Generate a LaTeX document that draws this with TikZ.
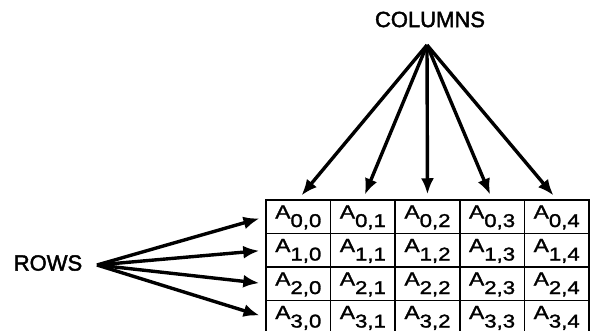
\documentclass[tikz,border=0pt]{standalone}
\usepackage{fontspec}
\setmainfont{Liberation Sans}
\newfontfamily\headfont[FakeBold=2]{Liberation Sans}
\newfontfamily\cellfont[FakeStretch=1.2, FakeBold=1.5]{Liberation Sans}
\usetikzlibrary{arrows.meta, positioning}
\newcommand{\arrent}[2]{{\fontsize{19}{19}\selectfont A}\raisebox{-8.5pt}{\fontsize{18.5}{18.5}\selectfont #1,#2}}

\begin{document}
\begin{tikzpicture}[
    x=1pt, y=-1pt,
    headtext/.style={font=\headfont\fontsize{22}{22}\selectfont},
    cell/.style={draw, line width=1.5pt, minimum width=64.6pt, minimum height=33.5pt, inner sep=0pt, text height=18.5pt, text depth=15pt, font=\cellfont},
    arrow/.style={-{Latex[length=16pt,width=13pt]}, line width=3.4pt}
]
    \useasboundingbox (0,0) rectangle (591,330);
    \node[headtext] (cols) at (430,19.5) {COLUMNS};
    \node[headtext] (rows) at (48,263) {ROWS};
    \coordinate (colfan) at (427,45);
    \coordinate (rowfan) at (97,265);

    \foreach \r in {0,...,3}
        \foreach \c in {0,...,4}
            \node[cell] (a\r\c) at ({298.3+64.6*\c},{216.75+33.5*\r}) {\arrent{\r}{\c}};

    \foreach \c in {0,...,4}
        \draw[arrow, shorten >=5pt] (colfan) -- (a0\c.north);
    \foreach \r in {0,...,3}
        \draw[arrow, shorten >=6pt] (rowfan) -- (a\r0.west);
\end{tikzpicture}
\end{document}
